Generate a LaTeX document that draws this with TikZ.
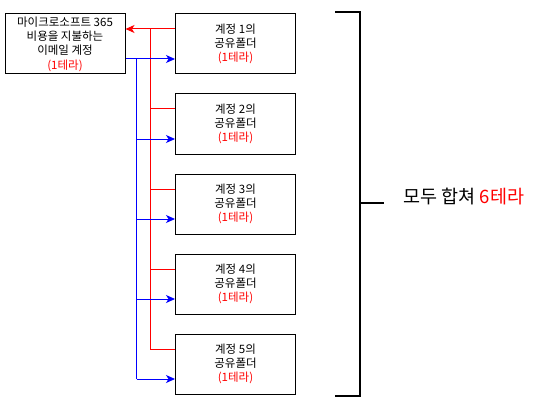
\documentclass[tikz,border=0pt]{standalone}
\usepackage{fontspec}
\setmainfont{Noto Sans CJK KR}
\usetikzlibrary{arrows.meta,positioning}

\begin{document}
\begin{tikzpicture}[
    x=1pt, y=-1pt,
    every node/.style={font=\fontsize{11.5}{14.3}\selectfont},
    box/.style={draw, line width=1pt, minimum width=120pt, minimum height=60pt, align=center, inner sep=0pt},
    redline/.style={draw=red, line width=1pt},
    blueline/.style={draw=blue, line width=1pt},
    tip/.style={-{Stealth[length=9pt,width=8pt,inset=2.5pt]}}
]
    \useasboundingbox (0,0) rectangle (534,406);

    % Account paying for the licence
    \node[box] (main) at (65,44) {마이크로소프트 365\\비용을 지불하는\\이메일 계정\\\textcolor{red}{(1테라)}};

    % Shared folders
    \foreach \i in {1,...,5} {
        \node[box] (f\i) at (235.5, {44+80*(\i-1)}) {계정 {\i}의\\공유폴더\\\textcolor{red}{(1테라)}};
        \coordinate (out\i) at ([yshift=15pt]f\i.west);
        \coordinate (in\i) at ([yshift=-15pt]f\i.west);
    }
    \coordinate (rx) at ([xshift=-25pt]f1.west);
    \coordinate (bx) at ([xshift=11pt]main.east);

    % Red lines back to the account
    \draw[redline, tip] (out1) -- (out1 -| main.east);
    \draw[redline] (out1 -| rx) -- (out5 -| rx);
    \foreach \i in {2,...,5}
        \draw[redline] (out\i) -- (out\i -| rx);

    % Blue lines out to the folders
    \draw[blueline, tip] (in1 -| main.east) -- (in1);
    \draw[blueline] (in1 -| bx) -- (in5 -| bx);
    \foreach \i in {2,...,5}
        \draw[blueline, tip] (in\i -| bx) -- (in\i);

    % Bracket and total
    \draw[line width=2pt] (335,12) -- (360,12) -- (360,396) -- (335,396);
    \draw[line width=2pt] (360,203) -- (384,203);
    \node[font=\fontsize{18.5}{22}\selectfont, anchor=west] (total) at (400,197) {모두 합쳐 \textcolor{red}{6테라}};
\end{tikzpicture}
\end{document}
